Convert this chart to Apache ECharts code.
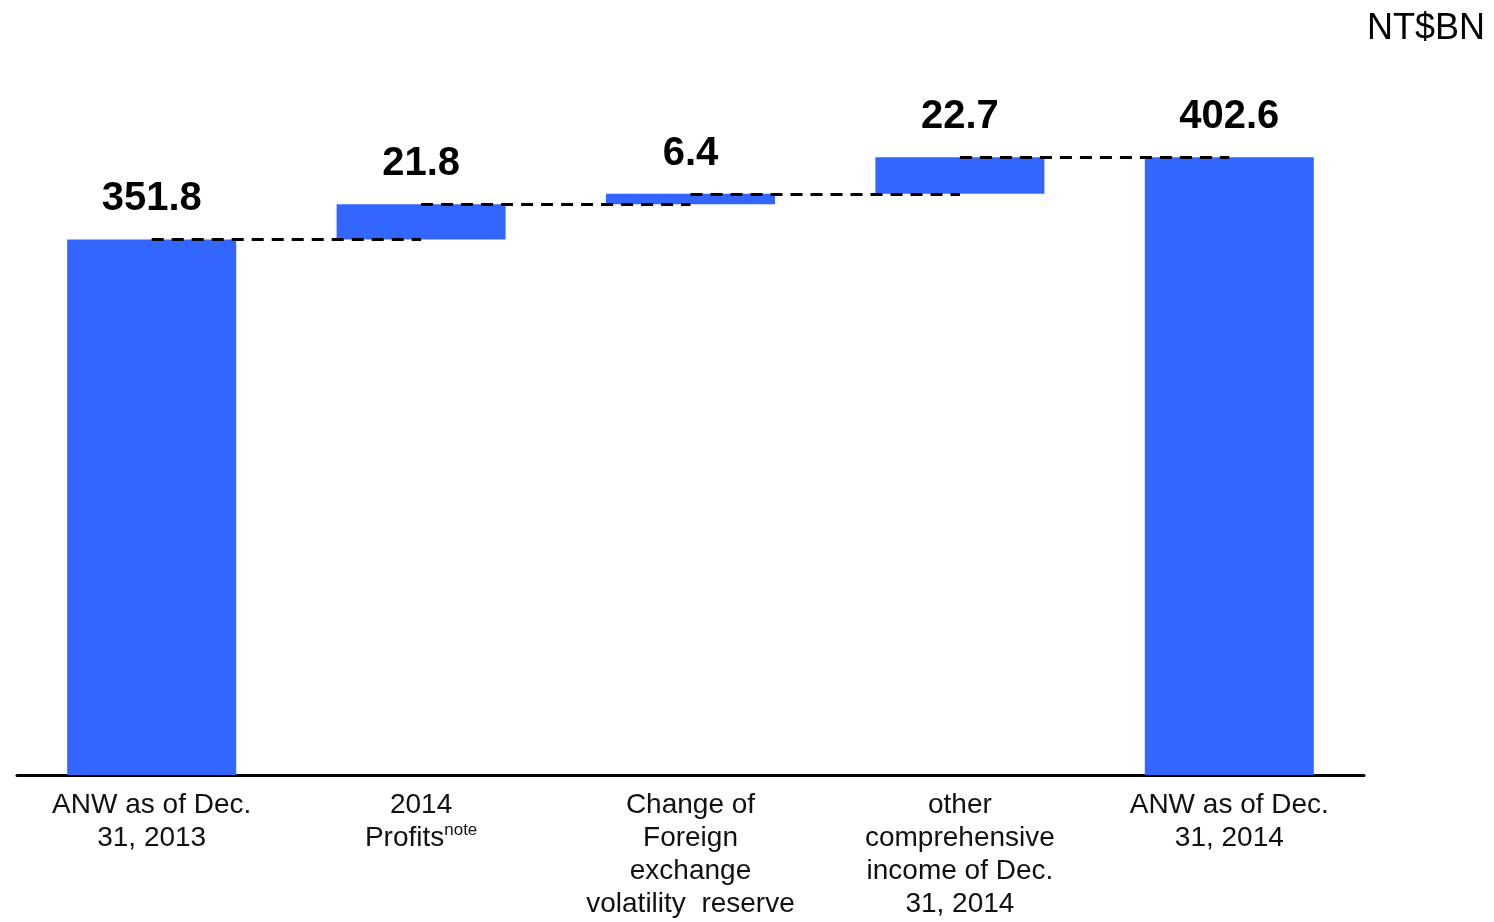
<!DOCTYPE html>
<html>
<head>
<meta charset="utf-8">
<title>ANW waterfall</title>
<script src="https://cdn.jsdelivr.net/npm/echarts@6/dist/echarts.min.js"></script>
<style>
  html, body { margin: 0; padding: 0; background: #fff; }
  #chart { width: 1494px; height: 922px; }
</style>
</head>
<body>
<div id="chart"></div>
<script>
// categories along the x axis
const categories = [
  "ANW as of Dec.\n31, 2013",
  "2014\n{t|Profits}{sup|note}",
  "Change of\nForeign\nexchange\nvolatility  reserve",
  "other\ncomprehensive\nincome of Dec.\n31, 2014",
  "ANW as of Dec.\n31, 2014"
];
// bar values (totals at both ends, increments in between)
const values = [351.8, 21.8, 6.4, 22.7, 402.6];
const isTotal = [true, false, false, false, true];
const unitLabel = "NT$BN";

// invisible base for the floating bars
const base = [];
let running = 0;
values.forEach((v, i) => {
  if (isTotal[i]) {
    base.push(0);
    running = v;
  } else {
    base.push(running);
    running += v;
  }
});
const tops = values.map((v, i) => base[i] + v);

// dashed connectors from the top of one bar to the next
const connectors = [];
for (let i = 0; i < values.length - 1; i++) {
  connectors.push([
    { coord: [i, tops[i]] },
    { coord: [i + 1, tops[i]] }
  ]);
}

const chart = echarts.init(document.getElementById("chart"));
chart.setOption({
  animation: false,
  textStyle: { fontFamily: "Liberation Sans, Arial, sans-serif" },
  title: {
    text: unitLabel,
    right: 4,
    top: 6,
    textStyle: { fontSize: 36, fontWeight: "normal", color: "#000" }
  },
  grid: { left: 17, right: 130, top: 97, bottom: 147 },
  xAxis: {
    type: "category",
    data: categories,
    axisTick: { show: false },
    axisLine: { lineStyle: { color: "#000", width: 3 } },
    axisLabel: {
      interval: 0,
      margin: 14,
      fontSize: 28,
      lineHeight: 33,
      color: "#111",
      rich: {
        t: { fontSize: 28, lineHeight: 33, color: "#111" },
        sup: { fontSize: 17, color: "#111", verticalAlign: "top", padding: [0, 0, 12, 0] }
      }
    }
  },
  yAxis: {
    type: "value",
    min: 20,
    max: 440,
    show: false,
    splitLine: { show: false }
  },
  series: [
    {
      type: "bar",
      stack: "wf",
      data: base,
      barWidth: 169,
      itemStyle: { color: "transparent" },
      silent: true,
      markLine: {
        silent: true,
        symbol: "none",
        label: { show: false },
        lineStyle: { color: "#000", width: 3, type: [12, 8] },
        data: connectors
      }
    },
    {
      type: "bar",
      stack: "wf",
      data: values,
      barWidth: 169,
      itemStyle: { color: "#3366ff" },
      label: {
        show: true,
        position: "top",
        distance: 20,
        fontSize: 40,
        fontWeight: "bold",
        color: "#000",
        formatter: p => p.value.toFixed(1)
      }
    }
  ]
});
</script>
</body>
</html>
